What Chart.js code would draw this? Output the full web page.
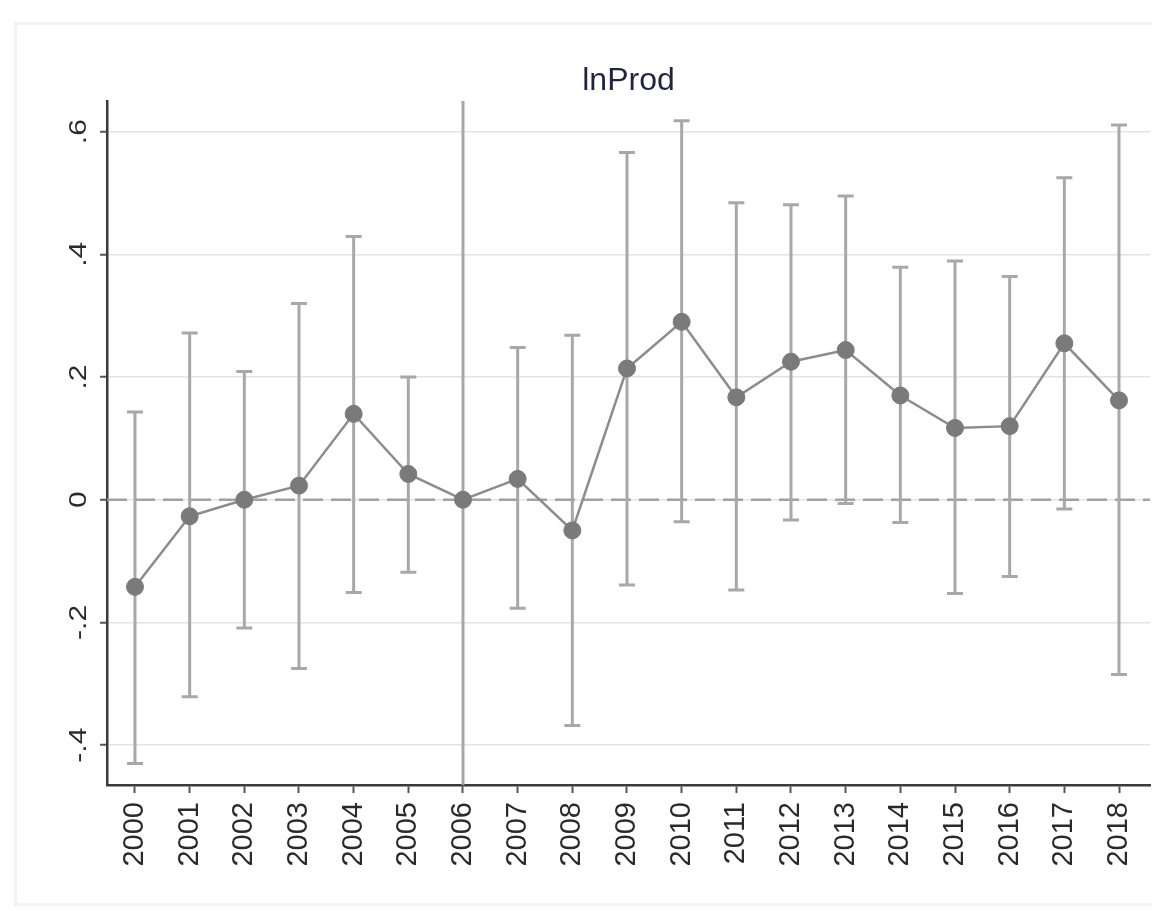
<!DOCTYPE html>
<html>
<head>
<meta charset="utf-8">
<script src="https://cdn.jsdelivr.net/npm/chart.js@4/dist/chart.umd.min.js"></script>
<style>
  html, body { margin: 0; padding: 0; background: #ffffff; }
  #wrap { position: relative; width: 1152px; height: 911px; overflow: hidden; }
  #frame { position: absolute; left: 14px; top: 22px; width: 1150px; height: 878px;
           border-left: 3px solid #f3f3f3; border-top: 3px solid #f3f3f3; border-bottom: 3px solid #f5f5f5; }
  #box { position: absolute; left: 0; top: 0; width: 1152px; height: 911px; }
</style>
</head>
<body>
<div id="wrap">
  <div id="frame"></div>
  <div id="box"><canvas id="c"></canvas></div>
</div>
<script>
// ---- data ----
const years = [2000, 2001, 2002, 2003, 2004, 2005, 2006, 2007, 2008, 2009,
               2010, 2011, 2012, 2013, 2014, 2015, 2016, 2017, 2018];
const coef = [-0.142, -0.027, 0.000, 0.023, 0.140, 0.042, 0.000, 0.034, -0.050, 0.214,
              0.290, 0.167, 0.225, 0.244, 0.170, 0.117, 0.120, 0.255, 0.162];
const ciLow = [-0.430, -0.321, -0.209, -0.275, -0.151, -0.118, null, -0.177, -0.368, -0.139,
               -0.036, -0.147, -0.033, -0.006, -0.037, -0.153, -0.125, -0.015, -0.285];
const ciHigh = [0.143, 0.272, 0.209, 0.320, 0.429, 0.200, null, 0.248, 0.268, 0.566,
                0.618, 0.484, 0.481, 0.495, 0.379, 0.389, 0.364, 0.525, 0.611];
const yTicks = [-0.4, -0.2, 0, 0.2, 0.4, 0.6];
const yTickLabels = ['-.4', '-.2', '0', '.2', '.4', '.6'];
const refYear = 2006;
const titleText = 'lnProd';

const FONT = '"Liberation Sans", Arial, Helvetica, sans-serif';

const refLines = {
  id: 'refLines',
  beforeDatasetsDraw(chart) {
    const {ctx, chartArea, scales} = chart;
    const xs = scales.x, ys = scales.y;
    ctx.save();
    // zero dashed line
    const y0 = ys.getPixelForValue(0);
    ctx.strokeStyle = '#a2a2a2';
    ctx.lineWidth = 2.5;
    ctx.setLineDash([20, 8]);
    ctx.beginPath();
    ctx.moveTo(chartArea.left, y0);
    ctx.lineTo(chartArea.right, y0);
    ctx.stroke();
    ctx.setLineDash([]);
    // reference year vertical line
    const xr = xs.getPixelForValue(refYear);
    ctx.strokeStyle = '#a6a6a6';
    ctx.lineWidth = 3;
    ctx.beginPath();
    ctx.moveTo(xr, chartArea.top);
    ctx.lineTo(xr, chartArea.bottom);
    ctx.stroke();
    // error bars
    ctx.strokeStyle = '#a8a8a8';
    ctx.lineWidth = 3;
    for (let i = 0; i < years.length; i++) {
      if (ciLow[i] === null || ciHigh[i] === null) continue;
      const x = xs.getPixelForValue(years[i]);
      const yl = ys.getPixelForValue(ciLow[i]);
      const yh = ys.getPixelForValue(ciHigh[i]);
      ctx.beginPath();
      ctx.moveTo(x, yl); ctx.lineTo(x, yh);
      ctx.moveTo(x - 8, yl); ctx.lineTo(x + 8, yl);
      ctx.moveTo(x - 8, yh); ctx.lineTo(x + 8, yh);
      ctx.stroke();
    }
    ctx.restore();
  }
};

const textPlugin = {
  id: 'textPlugin',
  afterDraw(chart) {
    const {ctx, scales, chartArea} = chart;
    const ys = scales.y;
    ctx.save();
    // title centred on the plot region
    ctx.fillStyle = '#1f2442';
    ctx.font = '32px ' + FONT;
    ctx.textAlign = 'center';
    ctx.textBaseline = 'alphabetic';
    ctx.fillText(titleText, (chartArea.left + chartArea.right) / 2, 90);
    // rotated y tick labels
    ctx.fillStyle = '#2a2a2a';
    ctx.font = '24px ' + FONT;
    for (let i = 0; i < yTicks.length; i++) {
      const y = ys.getPixelForValue(yTicks[i]);
      ctx.save();
      ctx.translate(86, y);
      ctx.rotate(-Math.PI / 2);
      ctx.scale(1.25, 1);
      ctx.fillText(yTickLabels[i], 0, 0);
      ctx.restore();
    }
    ctx.restore();
  }
};

new Chart(document.getElementById('c'), {
  type: 'line',
  data: {
    datasets: [{
      data: years.map((y, i) => ({x: y, y: coef[i]})),
      borderColor: '#8c8c8c',
      borderWidth: 2.5,
      pointRadius: 8.5,
      pointBackgroundColor: '#7a7a7a',
      pointBorderColor: '#7a7a7a',
      pointBorderWidth: 1,
      tension: 0,
      fill: false
    }]
  },
  options: {
    responsive: true,
    maintainAspectRatio: false,
    animation: false,
    layout: { autoPadding: false, padding: { top: 101, left: 0, right: 2, bottom: 0 } },
    plugins: {
      legend: { display: false },
      tooltip: { enabled: false },
      title: { display: false }
    },
    scales: {
      x: {
        type: 'linear',
        min: 1999.488,
        max: 2018.567,
        afterBuildTicks(scale) { scale.ticks = years.map(v => ({value: v})); },
        afterFit(scale) { scale.height = 126; scale.paddingLeft = 0; scale.paddingRight = 0; },
        grid: { drawOnChartArea: false, drawTicks: true, tickLength: 8, tickColor: '#555', tickWidth: 2 },
        border: { display: true, color: '#3a3a3a', width: 2.5 },
        ticks: {
          autoSkip: false,
          minRotation: 90,
          maxRotation: 90,
          padding: 9,
          color: '#2a2a2a',
          font: { family: FONT, size: 29 },
          callback: (v) => String(v)
        }
      },
      y: {
        type: 'linear',
        min: -0.465,
        max: 0.65,
        afterBuildTicks(scale) { scale.ticks = yTicks.map(v => ({value: v})); },
        afterFit(scale) { scale.width = 107; scale.paddingTop = 0; scale.paddingBottom = 0; },
        grid: {
          drawOnChartArea: true,
          color: '#e4e4e4',
          lineWidth: 1.5,
          drawTicks: true,
          tickLength: 7,
          tickColor: '#555',
          tickWidth: 2
        },
        border: { display: true, color: '#3a3a3a', width: 2.5 },
        ticks: { display: false }
      }
    }
  },
  plugins: [refLines, textPlugin]
});
</script>
</body>
</html>
